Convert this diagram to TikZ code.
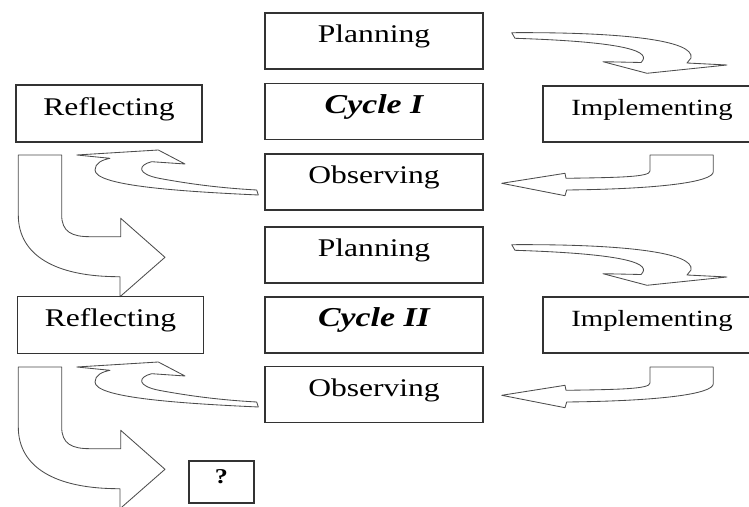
\documentclass[tikz,border=0pt]{standalone}
\usepackage{fontspec}
% letters come out wider than tall in this chart
\setmainfont{Liberation Serif}[FakeStretch=1.24]

\begin{document}
\begin{tikzpicture}[
  x=0.25mm, y=-0.25mm,
  line cap=butt, line join=miter,
  % boxes of the cycle: text baseline kept near the middle
  stagebox/.style={draw=black!80, line width=0.9pt, inner sep=0pt,
    text height=0.72em, text depth=0.5em,
    font=\fontsize{18.1pt}{18.1pt}\selectfont},
  widebox/.style={minimum width=54.5mm, minimum height=14mm},
  sidebox/.style={minimum width=46.5mm, minimum height=14.2mm},
  implfont/.style={font=\fontsize{16.5pt}{16.5pt}\selectfont},
  cyclefont/.style={font=\fontsize{19.4pt}{19.4pt}\selectfont\bfseries\itshape},
  qbox/.style={minimum width=16.25mm, minimum height=10.5mm,
    font=\fontsize{15pt}{15pt}\selectfont\bfseries},
  % outlined block arrows
  bandarrow/.style={draw=black!70, line width=0.6pt, fill=white, line join=round}
]
  \clip (0,0) rectangle (749,507);

  % ---- block arrows, same set for both cycles ----
  \foreach \dy in {0,212} {
    \begin{scope}[shift={(0,\dy)}]
      % sweep: Planning -> Implementing
      \draw[bandarrow] (511.7,32.7) .. controls (620,32) and (695,40) .. (691,58)
        -- (687,63) -- (727,65) -- (647,73.3) -- (603,61.7) -- (641,62.5)
        .. controls (652,52) and (630,42) .. (515,38.3) -- cycle;
      % hook: Implementing -> Observing
      \draw[bandarrow] (650,155) -- (713.3,155) -- (713.3,171.7)
        .. controls (713.3,182) and (660,189) .. (566.7,190)
        -- (565,195.7) -- (501.7,183.3) -- (565,173.3) -- (566,178.3)
        .. controls (620,177.5) and (650,177) .. (650,171) -- cycle;
      % curl: Observing -> Reflecting
      \draw[bandarrow] (258.3,195) .. controls (170,191) and (95,185) .. (95,170)
        .. controls (95,163) and (102,160) .. (110,158.3)
        -- (76.7,155) -- (158.3,150) -- (185,164) -- (151.7,161.7)
        .. controls (138,165) and (136,174) .. (160,178.5)
        .. controls (190,184) and (220,188) .. (256.7,190) -- cycle;
      % drop: Reflecting -> next cycle
      \draw[bandarrow] (18.3,155) -- (61.7,155) -- (61.7,215)
        .. controls (61.7,232) and (72,236.7) .. (90,236.7)
        -- (120.7,236.7) -- (120.7,218.3) -- (165,257.3) -- (120,296.7) -- (120,276.7)
        .. controls (55,277) and (18.3,255) .. (18.3,215) -- cycle;
    \end{scope}
  }

  % ---- cycle I ----
  \node[stagebox, widebox] (plan1) at (374,41) {Planning};
  \node[stagebox, widebox, cyclefont] (cyc1) at (374,111.5) {Cycle I};
  \node[stagebox, widebox] (obs1) at (374,182) {Observing};
  \node[stagebox, sidebox] (refl1) at (109,113.5) {Reflecting};
  \node[stagebox, widebox, implfont] (impl1) at (652,114) {Implementing};

  % ---- cycle II ----
  \node[stagebox, widebox] (plan2) at (374,255) {Planning};
  \node[stagebox, widebox, cyclefont] (cyc2) at (374,325) {Cycle II};
  \node[stagebox, widebox] (obs2) at (374,394.5) {Observing};
  \node[stagebox, sidebox] (refl2) at (110.5,325) {Reflecting};
  \node[stagebox, widebox, implfont] (impl2) at (652,325) {Implementing};

  % ---- what comes next ----
  \node[stagebox, qbox] (next) at (221.5,482) {?};
\end{tikzpicture}
\end{document}
